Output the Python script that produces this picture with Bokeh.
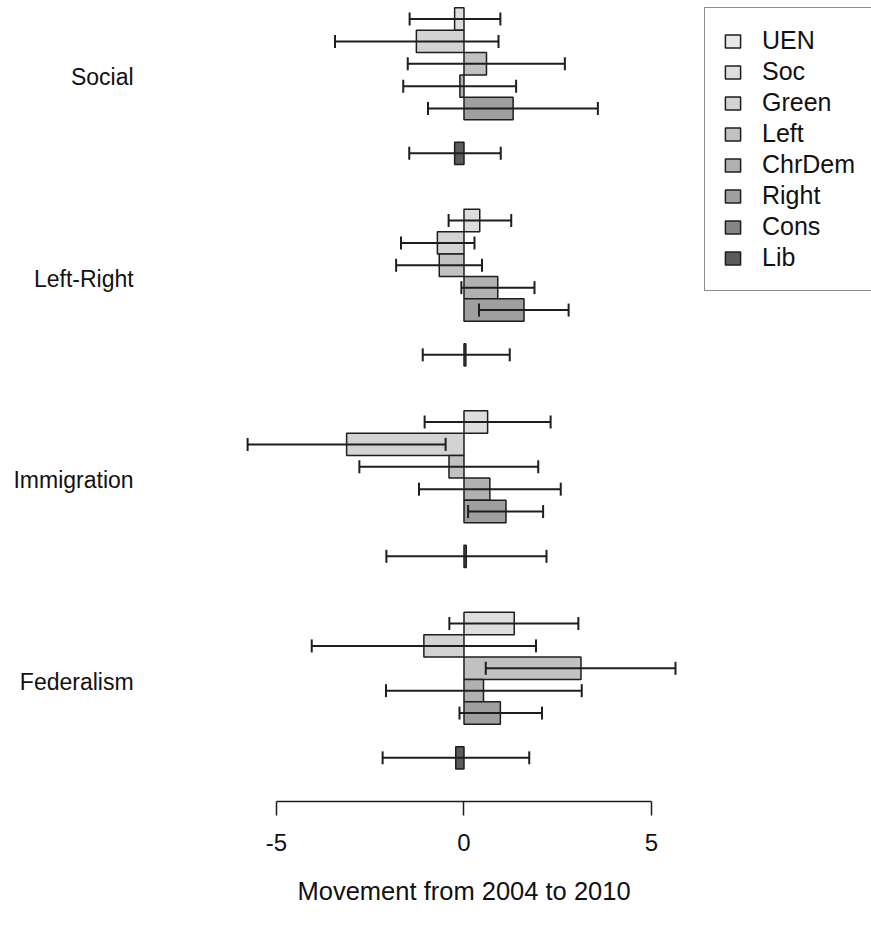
import math
from bokeh.plotting import figure
from bokeh.models import (ColumnDataSource, Range1d, FixedTicker, Whisker, TeeHead,
                          Legend, LegendItem, Title)
from bokeh.core.properties import value
from bokeh.embed import file_html
from bokeh.resources import INLINE

nan = float("nan")

topics = ["Social", "Left-Right", "Immigration", "Federalism"]
parties = ["UEN", "Soc", "Green", "Left", "ChrDem", "Right", "Cons", "Lib"]
colors = ["#e8e8e8", "#dedede", "#d3d3d3", "#c1c1c1", "#b1b1b1", "#9f9f9f", "#858585", "#5b5b5b"]

# movement (one value per topic, in topic order)
UEN = [nan, nan, nan, nan]
Soc = [-0.25, 0.42, 0.63, 1.34]
Green = [-1.27, -0.71, -3.13, -1.07]
Left = [0.60, -0.66, -0.40, 3.12]
ChrDem = [-0.11, 0.90, 0.69, 0.52]
Right = [1.31, 1.60, 1.12, 0.97]
Cons = [nan, nan, nan, nan]
Lib = [-0.25, 0.05, 0.06, -0.22]

# confidence interval bounds
UEN_lo = [nan, nan, nan, nan]
UEN_hi = [nan, nan, nan, nan]
Soc_lo = [-1.45, -0.41, -1.05, -0.39]
Soc_hi = [0.97, 1.26, 2.31, 3.05]
Green_lo = [-3.44, -1.68, -5.77, -4.06]
Green_hi = [0.92, 0.28, -0.49, 1.92]
Left_lo = [-1.50, -1.81, -2.79, 0.58]
Left_hi = [2.69, 0.48, 1.98, 5.64]
ChrDem_lo = [-1.62, -0.07, -1.20, -2.08]
ChrDem_hi = [1.39, 1.88, 2.58, 3.14]
Right_lo = [-0.96, 0.40, 0.11, -0.12]
Right_hi = [3.57, 2.79, 2.11, 2.08]
Cons_lo = [nan, nan, nan, nan]
Cons_hi = [nan, nan, nan, nan]
Lib_lo = [-1.46, -1.10, -2.07, -2.17]
Lib_hi = [0.98, 1.22, 2.20, 1.74]

values = [UEN, Soc, Green, Left, ChrDem, Right, Cons, Lib]
lows = [UEN_lo, Soc_lo, Green_lo, Left_lo, ChrDem_lo, Right_lo, Cons_lo, Lib_lo]
highs = [UEN_hi, Soc_hi, Green_hi, Left_hi, ChrDem_hi, Right_hi, Cons_hi, Lib_hi]

x_ticks = [-5, 0, 5]
x_tick_labels = ["-5", "0", "5"]
x_title = "Movement from 2004 to 2010"

FONT = "Liberation Sans"
INK = "#1e1e1e"
group_size = len(parties) + 1  # one empty slot between groups

p = figure(width=871, height=929, output_backend="svg", toolbar_location=None,
           x_range=Range1d(-12.36, 10.867), y_range=Range1d(36.45, 0.674),
           y_axis_location=None, x_axis_location="below",
           min_border_left=0, min_border_right=0, min_border_top=0,
           min_border_bottom=128)
p.outline_line_color = None
p.xgrid.visible = False
p.ygrid.visible = False
p.background_fill_color = "white"
p.border_fill_color = "white"

items = []
for k, party in enumerate(parties):
    ys = [g * group_size + k + 0.5 for g in range(len(topics))]
    src = ColumnDataSource(dict(y=ys, v=values[k]))
    r = p.hbar(y="y", left=0, right="v", height=1.0, source=src,
               fill_color=colors[k], line_color=INK, line_width=1.5)
    items.append(LegendItem(label=party, renderers=[r]))
    keep = [i for i in range(len(topics)) if not math.isnan(lows[k][i])]
    if keep:
        wsrc = ColumnDataSource(dict(y=[ys[i] for i in keep],
                                     lo=[lows[k][i] for i in keep],
                                     hi=[highs[k][i] for i in keep]))
        w = Whisker(base="y", lower="lo", upper="hi", dimension="width", source=wsrc,
                    line_color=INK, line_width=2, level="annotation",
                    upper_head=TeeHead(size=13, line_color=INK, line_width=2),
                    lower_head=TeeHead(size=13, line_color=INK, line_width=2))
        p.add_layout(w)

# group labels
lab_src = ColumnDataSource(dict(x=[-8.81] * len(topics),
                                y=[g * group_size + 4.1 for g in range(len(topics))],
                                t=topics))
p.text(x="x", y="y", text="t", source=lab_src, text_align="right",
       text_baseline="middle", text_font=value(FONT), text_font_size="23px",
       text_color="#111111")

ax = p.xaxis[0]
ax.bounds = (-5, 5)
ax.ticker = FixedTicker(ticks=x_ticks)
ax.major_label_overrides = {t: s for t, s in zip(x_ticks, x_tick_labels)}
ax.minor_tick_line_color = None
ax.major_tick_in = 0
ax.major_tick_out = 14
ax.major_tick_line_width = 1.5
ax.major_tick_line_color = INK
ax.axis_line_width = 1.5
ax.axis_line_color = INK
ax.major_label_standoff = 18
ax.major_label_text_font = FONT
ax.major_label_text_font_size = "24px"
ax.major_label_text_color = "#111111"

# axis title, centred under the -5..5 axis span
p.add_layout(Title(text=x_title, align="left", offset=297, standoff=43,
                   text_font=FONT, text_font_size="25.5px",
                   text_font_style="normal", text_color="#111111"), "below")

legend = Legend(items=items, location=(704, 510), padding=18, spacing=2,
                glyph_width=19, glyph_height=16, label_height=28,
                label_standoff=20, margin=0,
                label_text_font=FONT, label_text_font_size="25px",
                label_text_color="#111111",
                border_line_color=INK, border_line_width=1.2,
                background_fill_color="white", background_fill_alpha=1.0)
p.add_layout(legend)

open("out.html", "w").write(file_html(p, INLINE))
